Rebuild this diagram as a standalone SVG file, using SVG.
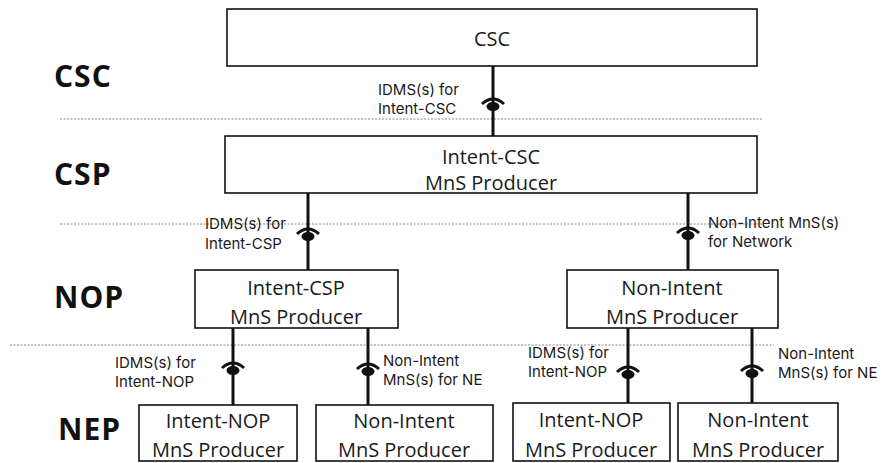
<svg xmlns="http://www.w3.org/2000/svg" width="885" height="463" viewBox="0 0 885 463">
<style>
  .box{fill:#fff;stroke:#111;stroke-width:1.6}
  .bt{font-family:"Open Sans","Liberation Sans",sans-serif;font-size:20px;fill:#1a1a1a;text-anchor:middle}
  .lt{font-family:Inter,"Liberation Sans",sans-serif;font-size:15px;fill:#1a1a1a}
  .layer{font-family:"Open Sans","Liberation Sans",sans-serif;font-size:30px;font-weight:bold;fill:#111;letter-spacing:1px}
  .dot{stroke:#888;stroke-width:1;stroke-dasharray:2,1.5;fill:none}
  .link{stroke:#111;stroke-width:3;fill:none}
</style>
<defs>
  <g id="iface">
    <path d="M-11,6 Q0,-4 11,6" stroke="#111" stroke-width="3" fill="none"/>
    <ellipse cx="0" cy="8.5" rx="6.5" ry="4.5" fill="#111"/>
  </g>
</defs>
<g id="separators">
  <line class="dot" x1="60" y1="119" x2="763" y2="119"/>
  <line class="dot" x1="60" y1="224" x2="763" y2="224"/>
  <line class="dot" x1="10" y1="345" x2="774" y2="345"/>
</g>
<g id="layers">
  <text class="layer" x="54" y="87">CSC</text>
  <text class="layer" x="54" y="185">CSP</text>
  <text class="layer" x="54" y="308">NOP</text>
  <text class="layer" x="58" y="440">NEP</text>
</g>
<g id="connectors">
  <line class="link" x1="493" y1="66" x2="493" y2="136"/>
  <use href="#iface" x="493" y="98"/>
  <line class="link" x1="308" y1="193" x2="308" y2="270"/>
  <use href="#iface" x="308" y="228"/>
  <line class="link" x1="688" y1="193" x2="688" y2="270"/>
  <use href="#iface" x="688" y="227"/>
  <line class="link" x1="233" y1="328" x2="233" y2="405"/>
  <use href="#iface" x="233" y="362"/>
  <line class="link" x1="368" y1="328" x2="368" y2="405"/>
  <use href="#iface" x="368" y="363"/>
  <line class="link" x1="628" y1="328" x2="628" y2="403"/>
  <use href="#iface" x="628" y="366"/>
  <line class="link" x1="752" y1="328" x2="752" y2="403"/>
  <use href="#iface" x="752" y="365"/>
</g>
<g id="labels">
  <text class="lt" x="378" y="95">IDMS(s) for</text>
  <text class="lt" x="378" y="114">Intent-CSC</text>
  <text class="lt" x="205" y="229">IDMS(s) for</text>
  <text class="lt" x="205" y="249">Intent-CSP</text>
  <text class="lt" x="708" y="228">Non-Intent MnS(s)</text>
  <text class="lt" x="708" y="247">for Network</text>
  <text class="lt" x="115" y="368">IDMS(s) for</text>
  <text class="lt" x="115" y="387">Intent-NOP</text>
  <text class="lt" x="383" y="366">Non-Intent</text>
  <text class="lt" x="383" y="385">MnS(s) for NE</text>
  <text class="lt" x="528" y="358">IDMS(s) for</text>
  <text class="lt" x="528" y="377">Intent-NOP</text>
  <text class="lt" x="778" y="359">Non-Intent</text>
  <text class="lt" x="778" y="378">MnS(s) for NE</text>
</g>
<g id="csc">
  <rect class="box" x="227" y="9" width="530" height="57"/>
  <text class="bt" x="492" y="46">CSC</text>
</g>
<g id="intent-csc">
  <rect class="box" x="225" y="136" width="532" height="57"/>
  <text class="bt" x="491" y="164">Intent-CSC</text>
  <text class="bt" x="491" y="190">MnS Producer</text>
</g>
<g id="intent-csp">
  <rect class="box" x="195" y="270" width="203" height="58"/>
  <text class="bt" x="296" y="295">Intent-CSP</text>
  <text class="bt" x="296" y="324">MnS Producer</text>
</g>
<g id="nop-non-intent">
  <rect class="box" x="567" y="270" width="211" height="58"/>
  <text class="bt" x="672" y="295">Non-Intent</text>
  <text class="bt" x="672" y="324">MnS Producer</text>
</g>
<g id="nep-intent-1">
  <rect class="box" x="139" y="405" width="158" height="56"/>
  <text class="bt" x="218" y="428">Intent-NOP</text>
  <text class="bt" x="218" y="457">MnS Producer</text>
</g>
<g id="nep-non-intent-1">
  <rect class="box" x="316" y="405" width="177" height="56"/>
  <text class="bt" x="404" y="428">Non-Intent</text>
  <text class="bt" x="404" y="457">MnS Producer</text>
</g>
<g id="nep-intent-2">
  <rect class="box" x="513" y="403" width="157" height="58"/>
  <text class="bt" x="591" y="427">Intent-NOP</text>
  <text class="bt" x="591" y="457">MnS Producer</text>
</g>
<g id="nep-non-intent-2">
  <rect class="box" x="678" y="403" width="160" height="58"/>
  <text class="bt" x="758" y="427">Non-Intent</text>
  <text class="bt" x="758" y="457">MnS Producer</text>
</g>
</svg>
